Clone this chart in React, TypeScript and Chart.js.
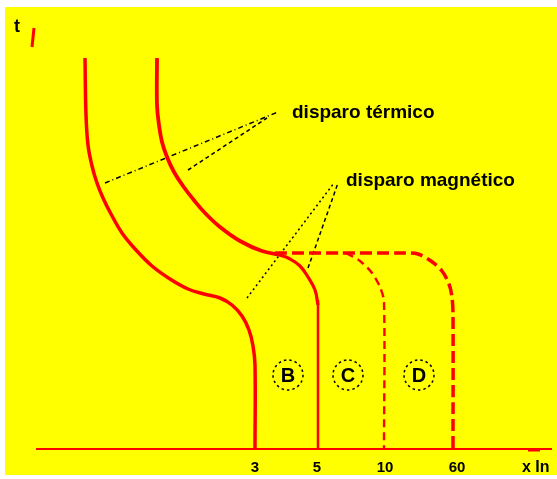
import React, { useEffect, useRef } from "react";
import { Chart, registerables } from "chart.js";

Chart.register(...registerables);

// Schematic coordinates (x: current axis units, y: time axis units, top = 0)
const curveThermalB: [number, number][] = [
  [85, 58], [86, 115], [88, 145], [92, 166], [97, 183], [103, 198], [111, 214],
  [122, 233], [136, 250], [152, 266], [170, 279], [188, 289], [204, 294],
  [220, 298], [232, 305], [242, 316], [249, 330], [253, 346], [255, 365], [255, 449],
];
const curveThermalC: [number, number][] = [
  [157, 58], [157, 105], [159, 125], [162, 142], [167, 157], [174, 172],
  [183, 186], [193, 199], [205, 213], [220, 227], [240, 241], [262, 251], [282, 255],
];
const curveMagnetic5: [number, number][] = [
  [280, 255], [290, 259], [300, 266], [308, 277], [315, 290], [318, 305],
];
const vertical5: [number, number][] = [[318, 300], [318, 449]];
const dashedD: [number, number][] = [
  [275, 253], [340, 253], [405, 253], [418, 254], [431, 261], [442, 271],
  [449, 284], [452, 297], [453, 315], [453, 449],
];
const dashedC: [number, number][] = [
  [346, 253], [360, 261], [372, 273], [380, 287], [384, 302], [384, 449],
];
const axisX: [number, number][] = [[36, 449], [552, 449]];
const axisArrow: [number, number][] = [[528, 450], [540, 450]];
const axisY: [number, number][] = [[34, 28], [32, 47]];
const leaderThermal1: [number, number][] = [[105, 183], [278, 112]];
const leaderThermal2: [number, number][] = [[188, 170], [267, 118]];
const leaderMagnetic1: [number, number][] = [[247, 298], [334, 183]];
const leaderMagnetic2: [number, number][] = [[308, 268], [338, 183]];

const tickPositions = [255, 317, 385, 457];
const tickLabels = ["3", "5", "10", "60"];
const curveLetters = ["B", "C", "D"];
const letterPositions = [288, 348, 419];
const letterRow = 375;

const RED = "#ff0000";
const FONT = "'Liberation Sans', Arial, sans-serif";

const pts = (a: [number, number][]) => a.map(([x, y]) => ({ x, y }));

export default function App() {
  const ref = useRef<HTMLCanvasElement | null>(null);

  useEffect(() => {
    document.body.style.margin = "0";
    const canvas = ref.current!;
    const line = (data: [number, number][], color: string, width: number, dash: number[] = [], tension = 0.4) => ({
      data: pts(data),
      showLine: true,
      borderColor: color,
      borderWidth: width,
      borderDash: dash,
      tension,
      pointRadius: 0,
      fill: false,
      clip: false as any,
    });

    const bgPlugin = {
      id: "bg",
      beforeDraw(chart: any) {
        const c = chart.ctx;
        c.save();
        c.fillStyle = "#ffffff";
        c.fillRect(0, 0, chart.width, chart.height);
        c.fillStyle = "#ffff00";
        c.fillRect(5, 7, chart.width - 5, chart.height - 11);
        c.restore();
      },
    };

    const textPlugin = {
      id: "texts",
      afterDatasetsDraw(chart: any) {
        const c = chart.ctx;
        const xs = chart.scales.x;
        const ys = chart.scales.y;
        c.save();
        c.fillStyle = "#000";
        c.textBaseline = "middle";
        c.textAlign = "center";
        c.font = `bold 15px ${FONT}`;
        tickLabels.forEach((t, i) => {
          c.fillText(t, xs.getPixelForValue(tickPositions[i]), ys.getPixelForValue(468));
        });
        c.textAlign = "left";
        c.font = `bold 16px ${FONT}`;
        c.fillText("x In", xs.getPixelForValue(522), ys.getPixelForValue(468));
        c.font = `bold 18px ${FONT}`;
        c.fillText("t", xs.getPixelForValue(14), ys.getPixelForValue(27));
        c.font = `bold 19px ${FONT}`;
        c.fillText("disparo térmico", xs.getPixelForValue(292), ys.getPixelForValue(113), 143);
        c.fillText("disparo magnético", xs.getPixelForValue(346), ys.getPixelForValue(181), 171);
        c.textAlign = "center";
        c.font = `bold 20px ${FONT}`;
        curveLetters.forEach((l, i) => {
          const px = xs.getPixelForValue(letterPositions[i]);
          const py = ys.getPixelForValue(letterRow);
          c.fillText(l, px, py + 1);
          c.beginPath();
          c.setLineDash([2.5, 3]);
          c.lineWidth = 1.5;
          c.strokeStyle = "#000";
          c.arc(px, py, 15, 0, Math.PI * 2);
          c.stroke();
        });
        c.restore();
      },
    };

    const chart = new Chart(canvas, {
      type: "scatter",
      data: {
        datasets: [
          line(axisX, RED, 2, [], 0),
          line(axisArrow, RED, 3, [], 0),
          line(axisY, RED, 3, [], 0),
          line(curveThermalB, RED, 3.5),
          line(curveThermalC, RED, 3.8),
          line(curveMagnetic5, RED, 3.2),
          line(vertical5, RED, 2.5, [], 0),
          line(dashedD, RED, 3.5, [12, 5], 0.3),
          line(dashedC, RED, 2.4, [8, 5], 0.3),
          line(leaderThermal1, "#000", 1.5, [5, 3, 1, 3], 0),
          line(leaderThermal2, "#000", 1.5, [4, 3], 0),
          line(leaderMagnetic1, "#000", 1.5, [2, 3], 0),
          line(leaderMagnetic2, "#000", 1.5, [4, 3], 0),
        ] as any,
      },
      options: {
        animation: false,
        responsive: false,
        maintainAspectRatio: false,
        layout: { padding: 0 },
        plugins: { legend: { display: false }, tooltip: { enabled: false } },
        events: [],
        scales: {
          x: { type: "linear", min: 0, max: 557, display: false },
          y: { type: "linear", min: 0, max: 479, reverse: true, display: false },
        },
      },
      plugins: [bgPlugin, textPlugin],
    });
    return () => chart.destroy();
  }, []);

  return <canvas ref={ref} width={557} height={479} style={{ display: "block" }} />;
}
